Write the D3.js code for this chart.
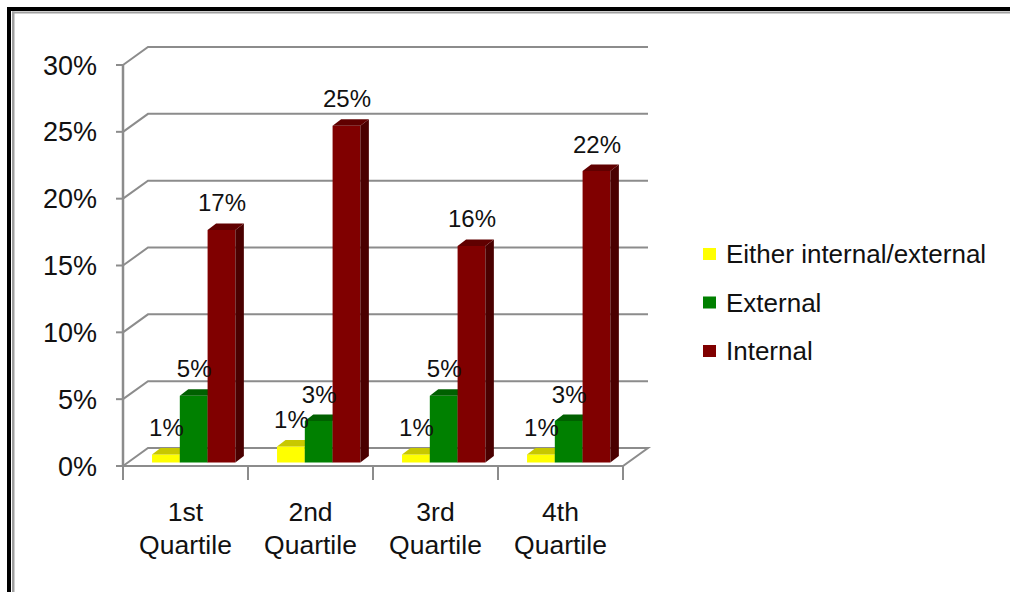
<!DOCTYPE html>
<html><head><meta charset="utf-8">
<script src="https://cdn.jsdelivr.net/npm/d3@7"></script>
<style>html,body{margin:0;padding:0;background:#fff;}svg{display:block;}</style>
</head><body>
<svg id="chart" width="1010" height="592"></svg>
<script>
const categories = ["1st Quartile", "2nd Quartile", "3rd Quartile", "4th Quartile"];
const seriesNames = ["Either internal/external", "External", "Internal"];
const eitherValues = [0.006, 0.012, 0.006, 0.006];
const externalValues = [0.050, 0.031, 0.050, 0.031];
const internalValues = [0.174, 0.252, 0.162, 0.218];
const yTicks = [0, 0.05, 0.10, 0.15, 0.20, 0.25, 0.30];
const seriesColors = ["#ffff00", "#008000", "#800000"];
const seriesTop = ["#c8c800", "#006000", "#600000"];
const seriesSide = ["#b0b000", "#004d00", "#4a0000"];

const allValues = [eitherValues, externalValues, internalValues];
const svg = d3.select("#chart");
const FONT = "'Liberation Sans', Arial, sans-serif";
const grid = "#8c8c8c";

// frame
svg.append("rect").attr("x",7).attr("y",7).attr("width",1003).attr("height",4).attr("fill","#000");
svg.append("rect").attr("x",7).attr("y",7).attr("width",4).attr("height",585).attr("fill","#000");
svg.append("rect").attr("x",12).attr("y",11.5).attr("width",998).attr("height",2).attr("fill","#a0a0a0");
svg.append("rect").attr("x",12).attr("y",11.5).attr("width",2.5).attr("height",581).attr("fill","#a0a0a0");

const x0 = d3.scaleBand().domain(categories).range([123, 623]);
const bw = x0.bandwidth();
const w = bw / 4.5;
const x1 = d3.scaleBand().domain(seriesNames).range([w*0.75, bw - w*0.75]);
const y = d3.scaleLinear().domain([0, 0.30]).range([466, 65]);

const DX = 25, DY = -18;          // wall depth
const bOX = 8.2, bOY = -3.5;      // bar front offset
const bDX = 8.5, bDY = -6.5;      // bar depth

// walls grid
const g = svg.append("g");
yTicks.forEach(t => {
  const yy = y(t);
  if (t > 0) {
    g.append("path").attr("d", `M${123},${yy}L${123+DX},${yy+DY}L${623+DX},${yy+DY}`)
      .attr("fill","none").attr("stroke",grid).attr("stroke-width",2);
  }
});
// floor
const y0 = y(0);
g.append("path").attr("d", `M123,${y0}L${123+DX},${y0+DY}L${623+DX},${y0+DY}L623,${y0}Z`)
  .attr("fill","#fff").attr("stroke",grid).attr("stroke-width",2);
// y axis
g.append("line").attr("x1",123).attr("x2",123).attr("y1",y(0)+1).attr("y2",y(0.30)).attr("stroke",grid).attr("stroke-width",2.5);
yTicks.forEach(t => {
  g.append("line").attr("x1",116).attr("x2",123).attr("y1",y(t)).attr("y2",y(t)).attr("stroke",grid).attr("stroke-width",2);
  svg.append("text").attr("x",97).attr("y",y(t)+9.5).attr("text-anchor","end")
    .attr("font-family",FONT).attr("font-size",27).attr("fill","#111")
    .text(d3.format(".0%")(t));
});
// category ticks
const catEdges = categories.map(c => x0(c)).concat([x0(categories[categories.length-1]) + bw]);
catEdges.forEach(xx => {
  g.append("line").attr("x1",xx).attr("x2",xx).attr("y1",y0).attr("y2",y0+14).attr("stroke",grid).attr("stroke-width",2);
});

// bars
categories.forEach((c, ci) => {
  seriesNames.forEach((s, si) => {
    const v = allValues[si][ci];
    const xl = x0(c) + x1(s) + bOX;
    const xr = xl + x1.bandwidth();
    const yt = y(v) + bOY;
    const yb = y(0) + bOY;
    const bg = svg.append("g");
    bg.append("path").attr("d", `M${xl},${yb}L${xr},${yb}L${xr},${yt}L${xl},${yt}Z`).attr("fill", seriesColors[si]);
    bg.append("path").attr("d", `M${xr},${yb}L${xr+bDX},${yb+bDY}L${xr+bDX},${yt+bDY}L${xr},${yt}Z`).attr("fill", seriesSide[si]);
    bg.append("path").attr("d", `M${xl},${yt}L${xr},${yt}L${xr+bDX},${yt+bDY}L${xl+bDX},${yt+bDY}Z`).attr("fill", seriesTop[si]);
  });
});
// labels
categories.forEach((c, ci) => {
  seriesNames.forEach((s, si) => {
    const v = allValues[si][ci];
    const xl = x0(c) + x1(s) + bOX;
    const cx = xl + x1.bandwidth()/2 + 0.5;
    const yt = y(v) + bOY;
    svg.append("text").attr("x",cx).attr("y",yt-18.5).attr("text-anchor","middle")
      .attr("font-family",FONT).attr("font-size",24).attr("fill","#111")
      .text(Math.round(v*100) + "%");
  });
});
// x labels
categories.forEach(c => {
  const parts = c.split(" ");
  const cx = x0(c) + bw/2;
  const t = svg.append("text").attr("text-anchor","middle").attr("font-family",FONT).attr("font-size",26.5).attr("fill","#111");
  t.append("tspan").attr("x",cx).attr("y",521).text(parts[0]);
  t.append("tspan").attr("x",cx).attr("y",554).text(parts[1]);
});
// legend
seriesNames.forEach((s, si) => {
  const cy = 254 + si*48.5;
  svg.append("rect").attr("x",703).attr("y",cy-6).attr("width",13).attr("height",12).attr("fill",seriesColors[si]);
  svg.append("text").attr("x",726).attr("y",cy+9).attr("font-family",FONT).attr("font-size",26).attr("fill","#111").text(s);
});
</script>
</body></html>
